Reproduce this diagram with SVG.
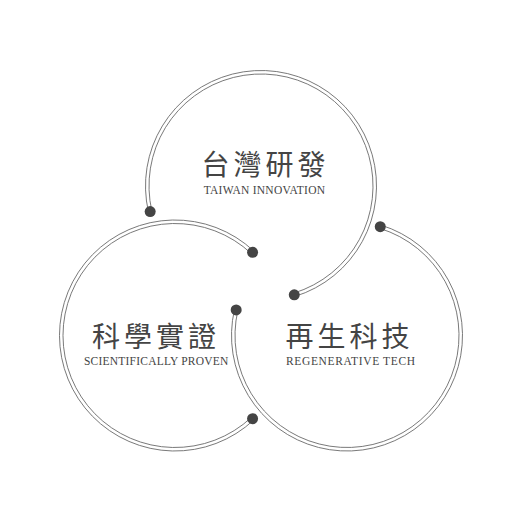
<svg xmlns="http://www.w3.org/2000/svg" width="522" height="522" viewBox="0 0 522 522">
  <style>
    .ring { fill: none; stroke: #6a6a6a; stroke-width: 0.9; }
    .dot { fill: #444444; }
    .title { font-family: "Noto Sans CJK TC", "Noto Sans CJK SC", sans-serif; font-size: 28px; fill: #444444; letter-spacing: 4px; text-anchor: middle; }
    .sub { font-family: "Liberation Serif", "Times New Roman", serif; font-size: 11.5px; fill: #444444; }
  </style>
  <rect width="522" height="522" fill="#ffffff"/>
  <g id="connectors">
    <!-- top circle -->
    <path class="ring" d="M148.46,211.98 A115.5,115.5 0 1 1 294.77,296.45"/>
    <path class="ring" d="M151.87,211.19 A112,112 0 1 1 293.75,293.11"/>
    <!-- left circle -->
    <path class="ring" d="M253.77,419.97 A115.5,115.5 0 1 1 253.77,251.03"/>
    <path class="ring" d="M251.38,417.41 A112,112 0 1 1 251.38,253.59"/>
    <!-- right circle -->
    <path class="ring" d="M380.77,225.05 A115.5,115.5 0 1 1 234.46,309.52"/>
    <path class="ring" d="M379.75,228.39 A112,112 0 1 1 237.87,310.31"/>
    <circle class="dot" cx="150.17" cy="211.59" r="5.5"/>
    <circle class="dot" cx="294.26" cy="294.78" r="5.5"/>
    <circle class="dot" cx="252.58" cy="418.69" r="5.5"/>
    <circle class="dot" cx="252.58" cy="252.31" r="5.5"/>
    <circle class="dot" cx="380.26" cy="226.72" r="5.5"/>
    <circle class="dot" cx="236.17" cy="309.91" r="5.5"/>
  </g>
  <g id="node-taiwan">
    <text class="title" x="265.5" y="175">台灣研發</text>
    <text class="sub" x="203.7" y="194" textLength="121.3" lengthAdjust="spacing">TAIWAN INNOVATION</text>
  </g>
  <g id="node-science">
    <text class="title" x="156" y="347">科學實證</text>
    <text class="sub" x="84" y="365" textLength="144.3" lengthAdjust="spacing">SCIENTIFICALLY PROVEN</text>
  </g>
  <g id="node-regen">
    <text class="title" x="349.5" y="347">再生科技</text>
    <text class="sub" x="286" y="365" textLength="129" lengthAdjust="spacing">REGENERATIVE TECH</text>
  </g>
</svg>
